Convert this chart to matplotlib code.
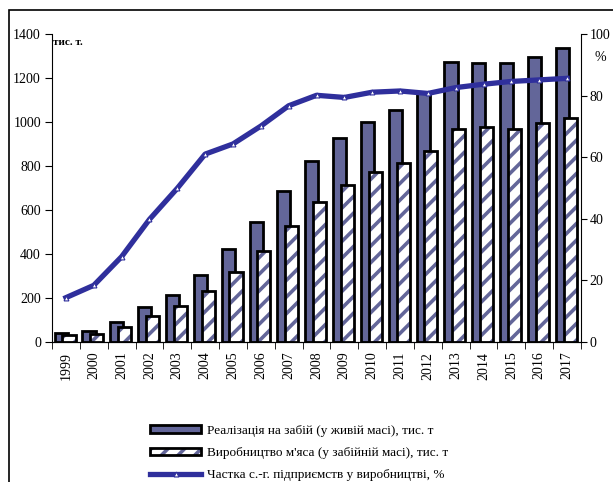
import matplotlib.pyplot as plt
import numpy as np
from matplotlib.patches import Patch, Rectangle
from matplotlib.lines import Line2D

plt.rcParams['font.family'] = 'Liberation Serif'
plt.rcParams['hatch.linewidth'] = 2.6

years = [str(y) for y in range(1999, 2018)]
# Реалізація на забій (у живій масі), тис. т
sold = [40, 48, 90, 160, 213, 306, 421, 544, 686, 822, 926, 998, 1054, 1135,
        1271, 1267, 1267, 1297, 1335]
# Виробництво м'яса (у забійній масі), тис. т
meat = [30, 38, 68, 120, 164, 230, 320, 415, 529, 635, 713, 774, 812, 870,
        970, 977, 970, 994, 1017]
# Частка с.-г. підприємств у виробництві, %
share = [14.4, 18.4, 27.7, 39.8, 49.9, 61.0, 64.3, 70.1, 76.7, 80.1, 79.4,
         81.1, 81.5, 80.7, 82.6, 83.7, 84.6, 85.1, 85.6]

lbl_sold = 'Реалізація на забій (у живій масі), тис. т'
lbl_meat = "Виробництво м'яса (у забійній масі), тис. т"
lbl_share = 'Частка с.-г. підприємств у виробництві, %'

dark = '#636699'
line_c = '#2f2f9c'

fig = plt.figure(figsize=(6.13, 4.82), dpi=100)
ax = fig.add_axes([52/613, 1-342/482, (581-52)/613, (342-34)/482])
x = np.arange(len(years))
w = 0.47

ax.bar(x - 0.17, sold, w, color=dark, edgecolor='black', linewidth=2, zorder=2)
ax.bar(x + 0.11, meat, w, color='white', edgecolor=dark, hatch='//', linewidth=0, zorder=3)
ax.bar(x + 0.11, meat, w, fill=False, edgecolor='black', linewidth=2, zorder=4)

ax.set_xlim(-0.5, len(years) - 0.5)
ax.set_ylim(0, 1400)
ax.set_yticks(range(0, 1401, 200))
ax.set_xticks(x)
ax.set_xticklabels(years, rotation=90, fontsize=10)
ax.set_xticks(np.arange(-0.5, len(years), 1), minor=True)
ax.tick_params(axis='x', which='major', length=0, pad=7)
ax.tick_params(axis='x', which='minor', length=5, direction='out')
ax.tick_params(axis='y', labelsize=10, length=5, pad=3)
for s in ['top', 'right']:
    ax.spines[s].set_visible(False)
ax.text(0.002, 0.974, 'тис. т.', transform=ax.transAxes, fontsize=8,
        fontweight='bold', va='center')

ax2 = ax.twinx()
ax2.plot(x, share, color=line_c, lw=3.8, marker='^', markersize=3.5,
         markerfacecolor='white', markeredgecolor=line_c, markeredgewidth=0.8, zorder=5)
ax2.set_ylim(0, 100)
ax2.set_yticks(range(0, 101, 20))
ax2.tick_params(axis='y', labelsize=10, length=4, pad=2)
for s in ['top', 'left']:
    ax2.spines[s].set_visible(False)
ax2.text(1.036, 0.925, '%', transform=ax2.transAxes, fontsize=10,
         ha='center', va='center')

# outer frame
fig.patches.append(Rectangle((9/613, -0.1), 1.2, 1 - 10/482 + 0.1,
                             transform=fig.transFigure, fill=False,
                             edgecolor='black', linewidth=1.2))

h1 = Patch(facecolor=dark, edgecolor='black', linewidth=2)
h2a = Patch(facecolor='white', edgecolor=dark, hatch='//', linewidth=0)
h2b = Patch(fill=False, edgecolor='black', linewidth=2)
h3 = Line2D([], [], color=line_c, lw=3.8, marker='^', markersize=3.5,
            markerfacecolor='white', markeredgecolor=line_c, markeredgewidth=0.8)
fig.legend([h1, (h2a, h2b), h3], [lbl_sold, lbl_meat, lbl_share],
           loc='upper left', bbox_to_anchor=(138/613, 1 - 413/482),
           frameon=False, fontsize=9.5, handlelength=3.9, handleheight=0.55,
           labelspacing=0.78, handletextpad=0.4)

fig.savefig('out.png', dpi=100)
